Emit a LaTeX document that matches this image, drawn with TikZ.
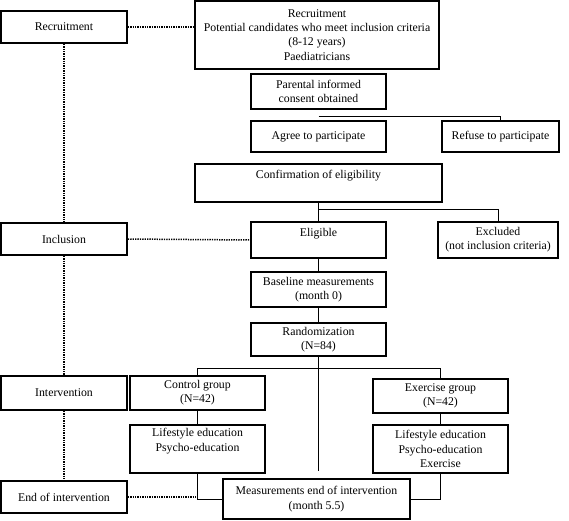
\documentclass[tikz,border=0pt]{standalone}
\usepackage{fontspec}
\setmainfont{Liberation Serif}
\usetikzlibrary{positioning}

\begin{document}
\begin{tikzpicture}[x=1pt,y=-1pt,
    main node/.style={rectangle,draw,line width=1.7pt,align=center,inner sep=1pt,font=\fontsize{11.8}{14.2}\selectfont},
    side node/.style={main node,minimum width=126pt,minimum height=32pt},
    dot line/.style={-,line width=1.5pt,dash pattern=on 1.3pt off 1.1pt},
    thin line/.style={-,line width=0.9pt}]
   \useasboundingbox (0,0) rectangle (569,520);
   % stages on the left
   \node[side node] (recl) at (64,27) {Recruitment};
   \node[side node] (incl) at (64,239) {Inclusion};
   \node[side node,minimum height=34pt] (interv) at (64,393) {Intervention};
   \node[side node] (endl) at (64,497) {End of intervention};
   % flow
   \node[main node,minimum width=244pt,minimum height=68pt] (recr) at (317,35) {Recruitment\\Potential candidates who meet inclusion criteria\\(8-12 years)\\Paediatricians};
   \node[main node,minimum width=135pt,minimum height=35pt] (consent) at (318.5,91.5) {Parental informed\\consent obtained};
   \node[main node,minimum width=135pt,minimum height=31pt] (agree) at (318.5,136.5) {Agree to participate};
   \node[main node,minimum width=117pt,minimum height=31pt] (refuse) at (500.5,136.5) {Refuse to participate};
   \node[main node,line width=1.1pt,minimum width=247pt,minimum height=38pt] (confirm) at (318.5,183) {Confirmation of eligibility\\[-2pt] \strut};
   \node[main node,minimum width=135pt,minimum height=36pt] (eligible) at (318.5,240) {Eligible\\[-4pt] \strut};
   \node[main node,minimum width=120pt,minimum height=36pt] (excluded) at (498,240) {Excluded\\(not inclusion criteria)};
   \node[main node,minimum width=135pt,minimum height=35pt] (baseline) at (318.5,289.5) {Baseline measurements\\(month 0)};
   \node[main node,minimum width=135pt,minimum height=33pt] (random) at (318.5,339.5) {Randomization\\(N=84)};
   \node[main node,minimum width=135pt,minimum height=34pt] (control) at (197.5,393) {Control group\\(N=42)};
   \node[main node,minimum width=135pt,minimum height=48pt] (lifec) at (197.5,449) {Lifestyle education\\Psycho-education\\ \strut};
   \node[main node,minimum width=135pt,minimum height=34pt] (exgroup) at (440.5,396) {Exercise group\\(N=42)};
   \node[main node,minimum width=135pt,minimum height=48pt] (lifee) at (440.5,449) {Lifestyle education\\Psycho-education\\Exercise};
   \node[main node,minimum width=187pt,minimum height=40pt] (measure) at (316.5,499) {Measurements end of intervention\\(month 5.5)};
   \coordinate (cs) at (318.5,116);
   \coordinate (cb) at (318.5,209);
   \coordinate (rb) at (318.5,368);
   \coordinate (rend) at (318.5,471);
   % dotted links
   \path[dot line] (recl.east) edge (recl.east -| recr.west);
   \path[dot line] (recl.south) edge (incl.north);
   \path[dot line] (incl.south) edge (interv.north);
   \path[dot line] (interv.south) edge (endl.north);
   \path[dot line] (incl.east) edge (eligible.west);
   \path[dot line] (endl.east) edge (endl.east -| lifec.south);
   % solid links
   \draw[thin line] (cs) -| (refuse.north);
   \path[thin line] (confirm.south) edge (eligible.north);
   \draw[thin line] (cb) -| (excluded.north);
   \path[thin line] (eligible.south) edge (baseline.north);
   \path[thin line] (baseline.south) edge (random.north);
   \path[thin line] (random.south) edge (rend);
   \draw[thin line] (rb) -| (control.north);
   \draw[thin line] (rb) -| (exgroup.north);
   \path[thin line] (control.south) edge (lifec.north);
   \path[thin line] (exgroup.south) edge (lifee.north);
   \draw[thin line] (lifec.south) |- (measure.west);
   \draw[thin line] (lifee.south) |- (measure.east);
\end{tikzpicture}
\end{document}
